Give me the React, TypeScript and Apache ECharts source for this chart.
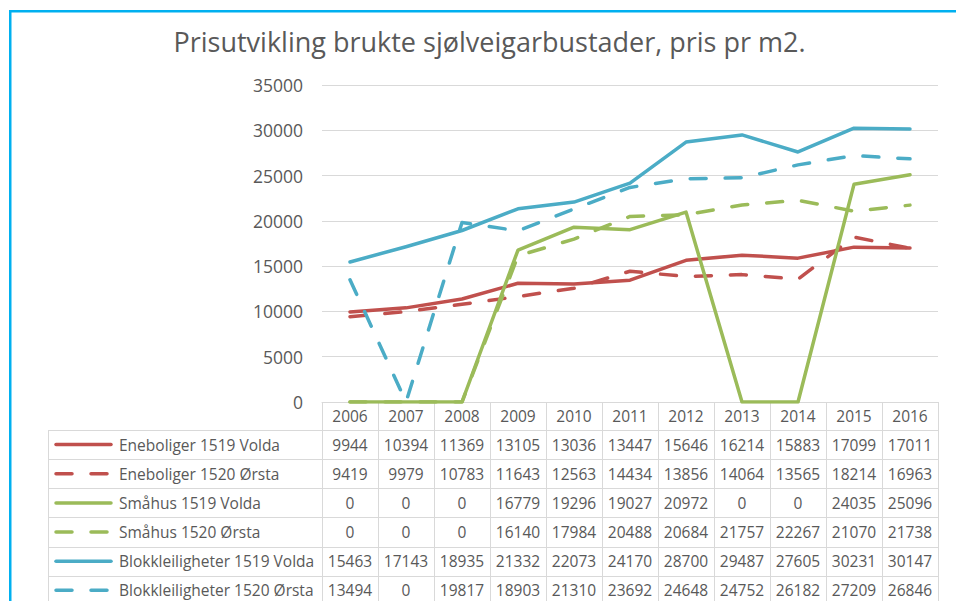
import React, { useEffect, useRef } from 'react';
import * as echarts from 'echarts';

const titleText = 'Prisutvikling brukte sjølveigarbustader, pris pr m2.';
const years = ['2006', '2007', '2008', '2009', '2010', '2011', '2012', '2013', '2014', '2015', '2016'];
const seriesNames = [
  'Eneboliger 1519 Volda',
  'Eneboliger 1520 Ørsta',
  'Småhus 1519 Volda',
  'Småhus 1520 Ørsta',
  'Blokkleiligheter 1519 Volda',
  'Blokkleiligheter 1520 Ørsta',
];
const eneboligerVolda = [9944, 10394, 11369, 13105, 13036, 13447, 15646, 16214, 15883, 17099, 17011];
const eneboligerOrsta = [9419, 9979, 10783, 11643, 12563, 14434, 13856, 14064, 13565, 18214, 16963];
const smahusVolda = [0, 0, 0, 16779, 19296, 19027, 20972, 0, 0, 24035, 25096];
const smahusOrsta = [0, 0, 0, 16140, 17984, 20488, 20684, 21757, 22267, 21070, 21738];
const blokkVolda = [15463, 17143, 18935, 21332, 22073, 24170, 28700, 29487, 27605, 30231, 30147];
const blokkOrsta = [13494, 0, 19817, 18903, 21310, 23692, 24648, 24752, 26182, 27209, 26846];
const yMin = 0;
const yMax = 35000;
const yInterval = 5000;

const seriesData = [eneboligerVolda, eneboligerOrsta, smahusVolda, smahusOrsta, blokkVolda, blokkOrsta];
const seriesColors = ['#C0504D', '#C0504D', '#9BBB59', '#9BBB59', '#4BACC6', '#4BACC6'];
const seriesDashed = [false, true, false, true, false, true];

const FONT = 'Open Sans';
const TEXT = '#595959';
const GRID = '#D9D9D9';
const LW = 3.5;
const DASH = [16, 19];
const HEADER_H = 28;
const ROW_H = 29.15;
const TABLE_FS = 15.5;

export default function App() {
  const ref = useRef<HTMLDivElement>(null);
  useEffect(() => {
    if (!ref.current) return;
    const chart = echarts.init(ref.current, null, { renderer: 'svg' });
    chart.setOption({
      animation: false,
      textStyle: { fontFamily: FONT },
      grid: { left: 322, right: 18, top: 85, bottom: 199, containLabel: false },
      xAxis: {
        type: 'category',
        data: years,
        boundaryGap: true,
        axisLine: { show: true, lineStyle: { color: GRID, width: 1 } },
        axisTick: { show: true, length: HEADER_H, lineStyle: { color: GRID, width: 1 } },
        axisLabel: { color: TEXT, fontSize: TABLE_FS, fontFamily: FONT, margin: 6, lineHeight: 16 },
      },
      yAxis: {
        type: 'value',
        min: yMin,
        max: yMax,
        interval: yInterval,
        axisLine: { show: false },
        axisTick: { show: false },
        axisLabel: {
          color: TEXT,
          fontSize: 17.5,
          fontFamily: FONT,
          margin: 19,
          formatter: (v: number) => String(v),
        },
        splitLine: { show: true, lineStyle: { color: GRID, width: 1 } },
      },
      series: seriesNames.map((name, i) => ({
        name,
        type: 'line',
        data: seriesData[i],
        symbol: 'none',
        showSymbol: false,
        lineStyle: {
          color: seriesColors[i],
          width: LW,
          type: seriesDashed[i] ? DASH : 'solid',
          cap: 'round',
          join: 'round',
        },
        itemStyle: { color: seriesColors[i] },
      })),
    });

    const x0 = chart.convertToPixel({ xAxisIndex: 0 }, years[0]) as number;
    const x1 = chart.convertToPixel({ xAxisIndex: 0 }, years[1]) as number;
    const colW = x1 - x0;
    const tableLeftCols = x0 - colW / 2;
    const tableRight = tableLeftCols + colW * years.length;
    const axisY = chart.convertToPixel({ yAxisIndex: 0 }, 0) as number;
    const rowsTop = axisY + HEADER_H;
    const legendLeft = 48;
    const bottom = 640;

    const els: any[] = [];
    els.push({
      type: 'text',
      x: 489.5,
      y: 41,
      style: { text: titleText, fontSize: 27, fontFamily: FONT, fill: TEXT, align: 'center', verticalAlign: 'middle' },
    });
    for (let k = 0; k <= seriesNames.length; k++) {
      const y = Math.round(rowsTop + k * ROW_H) + 0.5;
      els.push({
        type: 'line',
        silent: true,
        shape: { x1: legendLeft, y1: y, x2: tableRight, y2: y },
        style: { stroke: GRID, lineWidth: 1 },
      });
    }
    els.push({
      type: 'line',
      silent: true,
      shape: { x1: legendLeft + 0.5, y1: rowsTop, x2: legendLeft + 0.5, y2: bottom },
      style: { stroke: GRID, lineWidth: 1 },
    });
    for (let c = 0; c <= years.length; c++) {
      const x = Math.round(tableLeftCols + c * colW) + 0.5;
      els.push({
        type: 'line',
        silent: true,
        shape: { x1: x, y1: rowsTop, x2: x, y2: bottom },
        style: { stroke: GRID, lineWidth: 1 },
      });
    }
    seriesNames.forEach((name, i) => {
      const cy = rowsTop + (i + 0.5) * ROW_H;
      els.push({
        type: 'line',
        silent: true,
        shape: { x1: 56, y1: cy, x2: 111, y2: cy },
        style: {
          stroke: seriesColors[i],
          lineWidth: LW,
          lineDash: seriesDashed[i] ? DASH : null,
          lineCap: 'round',
        },
      });
      els.push({
        type: 'text',
        x: 119,
        y: cy,
        style: { text: name, fontSize: TABLE_FS, fontFamily: FONT, fill: TEXT, align: 'left', verticalAlign: 'middle' },
      });
      seriesData[i].forEach((v, j) => {
        const cx = chart.convertToPixel({ xAxisIndex: 0 }, years[j]) as number;
        els.push({
          type: 'text',
          x: cx,
          y: cy,
          style: { text: String(v), fontSize: TABLE_FS, fontFamily: FONT, fill: TEXT, align: 'center', verticalAlign: 'middle' },
        });
      });
    });
    els.push({
      type: 'rect',
      silent: true,
      z: 100,
      shape: { x: 10.25, y: 11.25, width: 1000, height: 700 },
      style: { fill: 'none', stroke: '#00B0F0', lineWidth: 2.5 },
    });
    chart.setOption({ graphic: { elements: els } });
    return () => chart.dispose();
  }, []);
  return (
    <div
      ref={ref}
      style={{ position: 'fixed', left: 0, top: 0, width: 956, height: 601, background: '#ffffff' }}
    />
  );
}
